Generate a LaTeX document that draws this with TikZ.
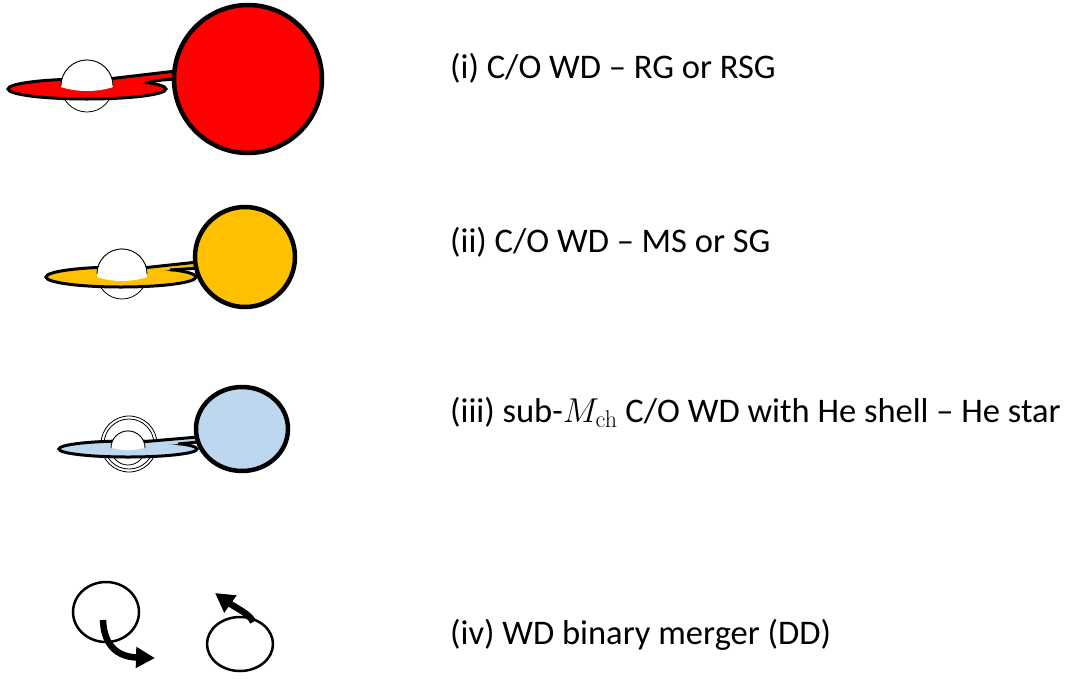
\RequirePackage{fix-cm}
\documentclass[tikz,border=0pt]{standalone}
\usepackage[no-math]{fontspec}
\setmainfont{Carlito}
\usetikzlibrary{arrows.meta}
\definecolor{giantred}{RGB}{255,0,0}
\definecolor{msorange}{RGB}{255,192,0}
\definecolor{hestar}{RGB}{189,215,238}

\begin{document}
\begin{tikzpicture}[x=1pt,y=-1pt,
  companion/.style={line width=4.5pt, draw=black},
  diskline/.style={line width=3pt, draw=black},
  wdline/.style={line width=0.8pt, draw=black},
  caption/.style={anchor=base west, font=\fontsize{34.5}{40}\selectfont, inner sep=0pt},
  orbit/.style={line width=2.5pt, draw=black},
  flow/.style={line width=6.5pt, -{Triangle[length=19pt,width=20pt]}}]
\useasboundingbox (0,0) rectangle (1090,678);

% ---------- (i) C/O WD + red giant ----------
\draw[wdline, fill=white] (87,86) circle (26);
\draw[diskline, fill=giantred] (87,89) ellipse (79 and 10);
\fill[giantred] (108,79) -- (176,71) -- (176,79) .. controls (160,80) .. (145,83) -- (110,85) -- cycle;
\draw[diskline] (108,79) -- (176,71);
\draw[diskline] (176,79) .. controls (160,80) .. (145,83);
\begin{scope}
  \clip (55,85) .. controls (75,93) and (99,93) .. (119,85) -- (119,50) -- (55,50) -- cycle;
  \fill[white] (87,86) circle (26);
\end{scope}
\draw[wdline] (61,86) arc (180:360:26);
\draw[companion, fill=giantred] (248,79) circle (74);

% ---------- (ii) C/O WD + main-sequence star ----------
\draw[wdline, fill=white] (122,274) circle (25);
\draw[diskline, fill=msorange] (121,277) ellipse (75 and 10);
\fill[msorange] (142,268) -- (198,262) -- (198,268) .. controls (185,269) .. (170,270) -- (145,273) -- cycle;
\draw[diskline] (142,268) -- (198,262);
\draw[diskline] (198,268) .. controls (185,269) .. (170,270);
\begin{scope}
  \clip (92,275) .. controls (110,283) and (134,283) .. (152,275) -- (152,240) -- (92,240) -- cycle;
  \fill[white] (122,274) circle (25);
\end{scope}
\draw[wdline] (97,274) arc (180:360:25);
\draw[companion, fill=msorange] (245,257) circle (50);

% ---------- (iii) WD with He shell + He star ----------
\draw[wdline, fill=white] (129,444) circle (28);
\draw[wdline] (129,444) circle (25);
\draw[wdline] (128,448) circle (17);
\draw[diskline, fill=hestar] (128,449) ellipse (69 and 8);
\fill[hestar] (140,442) -- (198,437) -- (198,442) .. controls (188,443) .. (178,444) -- (142,446) -- cycle;
\draw[diskline] (140,442) -- (198,437);
\draw[diskline] (198,442) .. controls (188,443) .. (178,444);
\begin{scope}
  \clip (105,445) .. controls (120,452) and (136,452) .. (151,445) -- (151,425) -- (105,425) -- cycle;
  \fill[white] (128,448) circle (17);
\end{scope}
\draw[wdline] (111,448) arc (180:360:17);
\draw[companion, fill=hestar] (242,429) ellipse (46 and 42);

% ---------- (iv) double-degenerate merger ----------
\draw[orbit] (106,612) ellipse (33 and 30);
\draw[orbit] (240,644) ellipse (33 and 27);
\draw[flow] (103,620) .. controls (104,648) and (120,657) .. (155,658);
\draw[flow] (253,622) .. controls (250,614) and (236,608) .. (215,593);

% ---------- captions ----------
\node[caption] (lab1) at (450,78) {(i) C/O WD – RG or RSG};
\node[caption] (lab2) at (450,252) {(ii) C/O WD – MS or SG};
\node[caption] (lab3) at (450,422) {(iii) sub-$M_{\mathrm{ch}}$ C/O WD with He shell – He star};
\node[caption] (lab4) at (450,644) {(iv) WD binary merger (DD)};
\end{tikzpicture}
\end{document}
